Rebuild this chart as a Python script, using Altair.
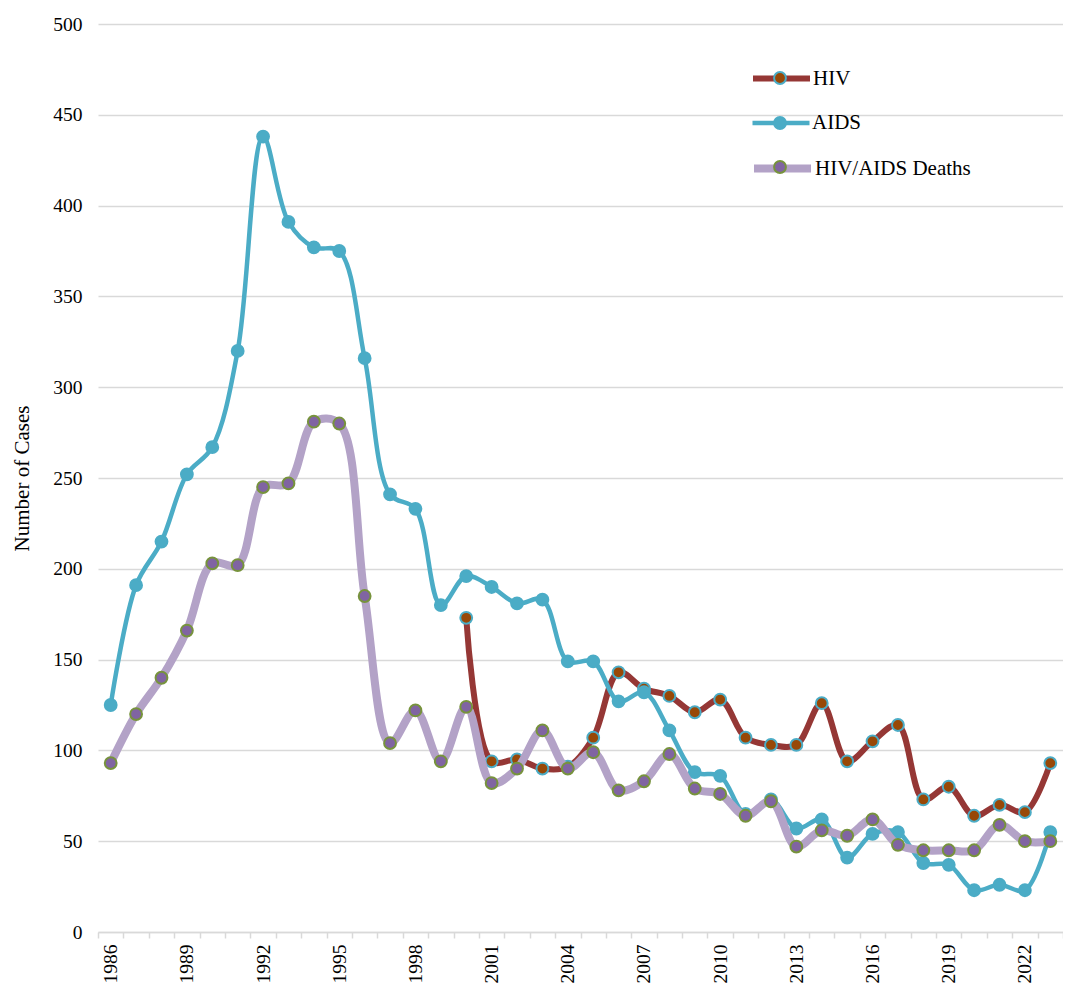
import altair as alt
import pandas as pd

years = list(range(1986, 2024))
hiv_years = list(range(2000, 2024))

hiv = [173, 94, 95, 90, 91, 107, 143, 134, 130, 121, 128, 107, 103, 103,
       126, 94, 105, 114, 73, 80, 64, 70, 66, 93]
aids = [125, 191, 215, 252, 267, 320, 438, 391, 377, 375, 316, 241, 233, 180,
        196, 190, 181, 183, 149, 149, 127, 132, 111, 88, 86, 65, 73, 57, 62,
        41, 54, 55, 38, 37, 23, 26, 23, 55]
deaths = [93, 120, 140, 166, 203, 202, 245, 247, 281, 280, 185, 104, 122, 94,
          124, 82, 90, 111, 90, 99, 78, 83, 98, 79, 76, 64, 72, 47, 56, 53,
          62, 48, 45, 45, 45, 59, 50, 50]

series_names = ["HIV", "AIDS", "HIV/AIDS Deaths"]
line_colors = ["#953735", "#4BACC6", "#B3A2C7"]
line_widths = [6, 4.5, 8]
point_fills = ["#984807", "#4BACC6", "#8064A2"]
point_strokes = ["#4BACC6", "#4BACC6", "#77933C"]
legend_rows = [54, 99, 143]   # legend entry centres below plot top

y_ticks = list(range(0, 501, 50))
x_tick_bounds = [y - 0.5 for y in range(1986, 2025)]

df = pd.concat([
    pd.DataFrame({"year": hiv_years, "value": hiv, "series": "HIV"}),
    pd.DataFrame({"year": years, "value": aids, "series": "AIDS"}),
    pd.DataFrame({"year": years, "value": deaths, "series": "HIV/AIDS Deaths"}),
], ignore_index=True)
df["marker"] = df["series"] + " marker"

FONT = "Liberation Serif"

x_enc = alt.X(
    "year:Q",
    scale=alt.Scale(domain=[1985.5, 2023.5], nice=False, zero=False),
    axis=alt.Axis(
        values=x_tick_bounds,
        labelExpr="(datum.value + 0.5 - 1986) % 3 == 0 ? toString(datum.value + 0.5) : ''",
        labelAngle=270, labelOffset=12.7, labelFlush=False, labelOverlap=False,
        grid=False, domainColor="#d9d9d9", domainWidth=1.5,
        tickColor="#d9d9d9", tickWidth=1.5, tickSize=6,
        labelFont=FONT, labelFontSize=19.5, labelColor="black", labelPadding=6,
        title=None,
    ),
)
y_enc = alt.Y(
    "value:Q",
    scale=alt.Scale(domain=[0, 500], nice=False),
    axis=alt.Axis(
        values=y_ticks, grid=True, gridColor="#d9d9d9", gridWidth=1.5,
        domain=False, ticks=False,
        labelFont=FONT, labelFontSize=19.5, labelColor="black", labelPadding=16,
        title="Number of Cases", titleFont=FONT, titleFontSize=21,
        titleFontWeight="normal", titleColor="black", titlePadding=20,
    ),
)

base = alt.Chart(df)
layers = []
for name, lc, lw, pf, ps, ry in zip(series_names, line_colors, line_widths,
                                    point_fills, point_strokes, legend_rows):
    sub = base.transform_filter(alt.datum.series == name)
    line_legend = alt.Legend(
        orient="none", legendX=652, legendY=ry - 31, title=None,
        symbolType="stroke", symbolSize=3249, symbolStrokeWidth=lw,
        labelFont=FONT, labelFontSize=21, labelColor="black",
        padding=0, labelOffset=0,
    )
    pt_legend = alt.Legend(
        orient="none", legendX=675, legendY=ry - 7, title=None,
        symbolType="circle", symbolSize=140, symbolStrokeWidth=2,
        labelExpr="''", padding=0, labelOffset=0,
    )
    line = sub.mark_line(interpolate="catmull-rom", strokeCap="round",
                         strokeJoin="round", strokeWidth=lw).encode(
        x=x_enc, y=y_enc,
        color=alt.Color("series:N", scale=alt.Scale(domain=[name], range=[lc]),
                        legend=line_legend),
    )
    pts = sub.mark_circle(size=140, strokeWidth=2, opacity=1).encode(
        x=x_enc, y=y_enc,
        fill=alt.Fill("marker:N", scale=alt.Scale(domain=[name + " marker"], range=[pf]),
                      legend=pt_legend),
        stroke=alt.Stroke("marker:N", scale=alt.Scale(domain=[name + " marker"], range=[ps]),
                          legend=pt_legend),
    )
    layers += [line, pts]

chart = alt.layer(*layers).resolve_scale(
    color="independent", fill="independent", stroke="independent"
).properties(
    width=965, height=908,
    autosize=alt.AutoSizeParams(type="none"),
    padding={"left": 90, "top": 16, "right": 0, "bottom": 52},
).configure(background="white", view=alt.ViewConfig(stroke=None))

chart.save("out.html", embed_options={"renderer": "svg", "actions": False})
